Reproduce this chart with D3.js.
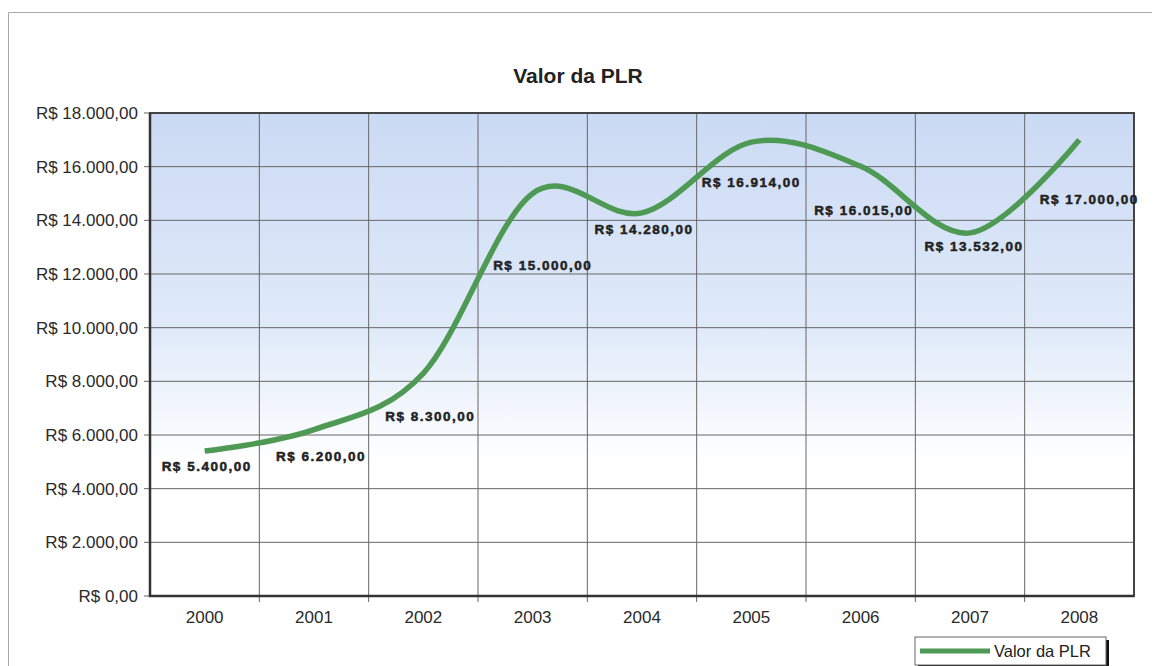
<!DOCTYPE html>
<html>
<head>
<meta charset="utf-8">
<script src="https://cdn.jsdelivr.net/npm/d3@7"></script>
<style>
  body { margin: 0; background: #fff; }
  svg { font-family: "Liberation Sans", Arial, sans-serif; }
</style>
</head>
<body>
<svg id="chart" width="1156" height="666"></svg>
<script>
// data
const years = ["2000", "2001", "2002", "2003", "2004", "2005", "2006", "2007", "2008"];
const plrValues = [5400, 6200, 8300, 15000, 14280, 16914, 16015, 13532, 17000];
const yTicks = [0, 2000, 4000, 6000, 8000, 10000, 12000, 14000, 16000, 18000];
const seriesName = "Valor da PLR";

// label nudges (px), Excel labels were dragged around by hand
const labelDx = [2, 7, 7, 10, 2, 0, 3, 4, 10];
const labelDy = [15, 27, 43, 72, 17, 40, 44, 14, 60];

const width = 1156, height = 666;
const margin = { top: 113, right: 22, bottom: 70, left: 150 };

const svg = d3.select("#chart");

// outer chart border (scanned sheet)
svg.append("path")
    .attr("d", "M8.5,666 L8.5,12.5 L1152,12.5")
    .attr("fill", "none")
    .attr("stroke", "#aaa")
    .attr("stroke-width", 1);

const x = d3.scaleBand()
    .domain(years)
    .range([margin.left, width - margin.right])
    .paddingInner(0).paddingOuter(0);

const y = d3.scaleLinear()
    .domain([0, 18000])
    .range([height - margin.bottom, margin.top]);

const fmt = d3.formatLocale({ decimal: ",", thousands: ".", grouping: [3], currency: ["R$ ", ""] }).format("$,.2f");

// plot area gradient
const defs = svg.append("defs");
const grad = defs.append("linearGradient")
    .attr("id", "bg").attr("x1", 0).attr("y1", 0).attr("x2", 0).attr("y2", 1);
grad.append("stop").attr("offset", "0%").attr("stop-color", "#cbdaf4");
grad.append("stop").attr("offset", "45%").attr("stop-color", "#e0eaf9");
grad.append("stop").attr("offset", "72%").attr("stop-color", "#ffffff");
grad.append("stop").attr("offset", "100%").attr("stop-color", "#ffffff");

svg.append("rect")
    .attr("x", margin.left).attr("y", margin.top)
    .attr("width", width - margin.left - margin.right)
    .attr("height", height - margin.top - margin.bottom)
    .attr("fill", "url(#bg)");

// horizontal grid
svg.append("g")
    .selectAll("line")
    .data(yTicks)
    .join("line")
    .attr("x1", margin.left - 6)
    .attr("x2", width - margin.right)
    .attr("y1", d => y(d)).attr("y2", d => y(d))
    .attr("stroke", "#666").attr("stroke-width", 1);

// vertical grid at category boundaries
svg.append("g")
    .selectAll("line")
    .data(years.slice(1))
    .join("line")
    .attr("x1", d => x(d)).attr("x2", d => x(d))
    .attr("y1", margin.top)
    .attr("y2", height - margin.bottom + 6)
    .attr("stroke", "#666").attr("stroke-width", 1);

// plot border
svg.append("rect")
    .attr("x", margin.left).attr("y", margin.top)
    .attr("width", width - margin.left - margin.right)
    .attr("height", height - margin.top - margin.bottom)
    .attr("fill", "none")
    .attr("stroke", "#444").attr("stroke-width", 2);
svg.append("path")
    .attr("d", `M${margin.left},${margin.top} V${height - margin.bottom} H${width - margin.right}`)
    .attr("fill", "none").attr("stroke", "#333").attr("stroke-width", 2.5);

// y axis labels
const yAxis = d3.axisLeft(y).tickValues(yTicks).tickSize(0).tickPadding(12).tickFormat(fmt);
svg.append("g")
    .attr("transform", `translate(${margin.left},0)`)
    .call(yAxis)
    .call(g => g.select(".domain").remove())
    .selectAll("text")
    .attr("font-size", 17)
    .attr("fill", "#2a2a2a")
    .attr("font-family", "Liberation Sans, Arial, sans-serif");

// x axis labels
const xAxis = d3.axisBottom(x).tickSize(0).tickPadding(15);
svg.append("g")
    .attr("transform", `translate(0,${height - margin.bottom})`)
    .call(xAxis)
    .call(g => g.select(".domain").remove())
    .selectAll("text")
    .attr("font-size", 17)
    .attr("fill", "#2a2a2a")
    .attr("font-family", "Liberation Sans, Arial, sans-serif");

// line
const line = d3.line()
    .x((d, i) => x(years[i]) + x.bandwidth() / 2)
    .y(d => y(d))
    .curve(d3.curveCatmullRom.alpha(0));

svg.append("path")
    .datum(plrValues)
    .attr("d", line)
    .attr("fill", "none")
    .attr("stroke", "#4e9a55")
    .attr("stroke-width", 5.5)
    .attr("stroke-linecap", "butt");

// data labels
svg.append("g")
    .selectAll("text")
    .data(plrValues)
    .join("text")
    .attr("x", (d, i) => x(years[i]) + x.bandwidth() / 2 + labelDx[i])
    .attr("y", (d, i) => y(d) + labelDy[i])
    .attr("text-anchor", "middle")
    .attr("dominant-baseline", "central")
    .attr("font-size", 13.5)
    .attr("font-weight", "bold")
    .attr("letter-spacing", 1.5)
    .attr("fill", "#222")
    .attr("stroke", "#222")
    .attr("stroke-width", 0.5)
    .text(d => fmt(d));

// title
svg.append("text")
    .attr("x", 578).attr("y", 83)
    .attr("text-anchor", "middle")
    .attr("font-size", 21)
    .attr("font-weight", "bold")
    .attr("fill", "#222")
    .text(seriesName);

// legend
const lg = svg.append("g").attr("transform", "translate(915,637)");
lg.append("rect").attr("x", 3).attr("y", 3).attr("width", 191).attr("height", 28).attr("fill", "#111");
lg.append("rect").attr("x", 0).attr("y", 0).attr("width", 191).attr("height", 28)
    .attr("fill", "#fff").attr("stroke", "#666").attr("stroke-width", 1);
lg.append("line").attr("x1", 5).attr("x2", 75).attr("y1", 14).attr("y2", 14)
    .attr("stroke", "#4e9a55").attr("stroke-width", 5);
lg.append("text").attr("x", 79).attr("y", 20)
    .attr("font-size", 16.5).attr("fill", "#222")
    .text(seriesName);
</script>
</body>
</html>
